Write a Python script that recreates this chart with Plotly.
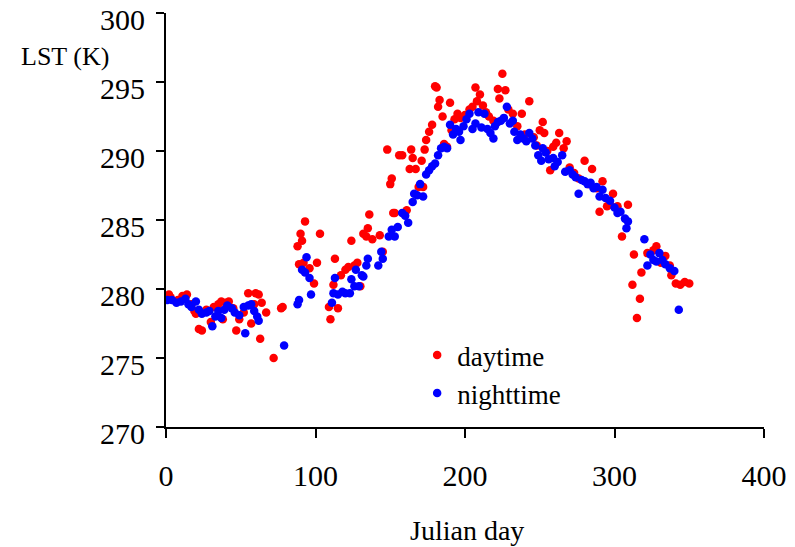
import plotly.graph_objects as go

# Daytime LST (red)
day_x = [2, 3, 8, 11, 14, 17, 19, 20, 22, 24, 27, 30, 32, 35, 37, 38, 40, 42, 45, 47,
         49, 52, 55, 57, 59, 60, 62, 63, 64, 67, 72, 77, 78, 88, 89, 90, 91, 92, 93, 96,
         99, 101, 103, 109, 110, 112, 113, 115, 117, 120, 122, 124, 126, 128, 130, 132, 134, 135, 136, 138,
         143, 145, 148, 150, 151, 152, 153, 156, 158, 161, 163, 164, 165, 167, 169, 171, 172, 173, 174, 176,
         178, 180, 181, 182, 183, 185, 186, 188, 190, 191, 193, 195, 197, 200, 203, 205, 207, 208, 210, 212,
         214, 216, 219, 222, 223, 225, 227, 229, 232, 235, 238, 240, 243, 246, 248, 250, 252, 253, 255, 257,
         259, 261, 263, 266, 268, 270, 273, 276, 280, 283, 285, 288, 290, 292, 295, 297, 299, 302, 305, 309,
         312, 313, 315, 317, 318, 322, 326, 328, 331, 334, 337, 338, 341, 344, 347, 350]
day_y = [279.6, 279.4, 279.2, 279.5, 279.6, 278.9, 278.4, 278.2, 277.1, 277.0, 278.5, 277.6, 278.7, 278.9, 279.1, 277.8, 279.0, 279.1, 278.6, 277.0,
         277.8, 278.3, 279.7, 277.5, 278.9, 279.7, 279.6, 276.4, 279.0, 278.3, 275.0, 278.6, 278.7, 283.1, 281.8, 284.0, 283.5, 281.9, 284.9, 281.5,
         280.4, 281.9, 284.0, 278.7, 277.8, 280.3, 282.2, 278.6, 281.0, 281.4, 281.6, 283.5, 281.7, 281.9, 280.2, 284.0, 283.8, 284.4, 285.4, 283.6,
         283.9, 282.7, 290.1, 287.6, 288.0, 285.5, 285.5, 289.7, 289.7, 285.7, 288.7, 290.1, 289.5, 288.7, 287.4, 289.3, 287.4, 290.1, 290.8, 291.4,
         291.9, 294.7, 294.6, 293.2, 293.7, 292.5, 290.5, 290.3, 293.5, 291.5, 292.3, 292.7, 292.4, 292.6, 293.0, 293.2, 294.6, 293.6, 294.1, 293.3,
         292.8, 292.5, 292.2, 294.5, 293.8, 295.6, 294.4, 293.0, 292.7, 291.8, 292.7, 291.2, 293.6, 291.0, 290.4, 291.5, 292.1, 291.3, 290.0, 288.6,
         290.3, 290.6, 291.3, 290.2, 290.7, 288.8, 288.4, 288.0, 289.3, 287.6, 288.7, 287.3, 285.6, 287.8, 286.0, 286.1, 286.9, 286.0, 283.8, 286.1,
         280.3, 282.5, 277.9, 279.3, 281.2, 282.6, 282.8, 283.1, 281.9, 282.4, 281.7, 281.0, 280.4, 280.3, 280.5, 280.4]

# Nighttime LST (blue)
night_x = [1, 4, 7, 10, 13, 15, 17, 20, 22, 24, 27, 29, 31, 33, 35, 37, 39, 41, 44, 46,
           49, 52, 53, 55, 57, 59, 61, 62, 79, 88, 89, 91, 93, 94, 96, 97, 111, 112, 113, 115,
           118, 120, 123, 124, 126, 127, 129, 131, 132, 134, 135, 142, 144, 145, 149, 151, 153, 155, 158, 160,
           162, 165, 166, 168, 170, 172, 174, 176, 178, 180, 182, 184, 186, 188, 190, 192, 194, 196, 197, 199,
           201, 203, 205, 207, 209, 211, 213, 215, 217, 219, 220, 222, 224, 226, 228, 230, 232, 233, 235, 237,
           239, 241, 243, 245, 247, 249, 251, 252, 254, 256, 259, 260, 262, 265, 267, 270, 272, 274, 276, 278,
           280, 282, 284, 286, 288, 290, 292, 294, 297, 300, 302, 304, 307, 308, 309, 320, 322, 324, 326, 328,
           330, 332, 334, 337, 340, 343]
night_y = [279.2, 279.2, 279.0, 279.1, 279.3, 278.9, 278.7, 279.1, 278.5, 278.2, 278.3, 278.4, 277.3, 278.0, 278.4, 277.9, 278.5, 278.8, 278.6, 278.3,
           278.1, 278.7, 276.8, 278.8, 278.9, 278.4, 278.0, 277.7, 275.9, 278.9, 279.2, 281.4, 281.2, 282.3, 280.8, 279.6, 279.0, 279.7, 280.8, 279.6,
           279.8, 279.7, 279.7, 280.7, 280.2, 281.4, 280.2, 281.0, 280.9, 281.7, 282.2, 281.7, 282.7, 282.2, 283.8, 284.3, 283.8, 284.5, 285.5, 285.3,
           284.8, 286.3, 286.9, 286.8, 287.6, 286.7, 288.3, 288.6, 288.9, 289.1, 289.7, 290.2, 290.3, 290.2, 291.9, 291.2, 291.6, 291.4, 290.8, 291.8,
           292.3, 292.7, 291.6, 292.0, 292.8, 291.7, 292.7, 291.6, 291.3, 290.9, 291.8, 292.1, 292.2, 292.4, 293.2, 292.0, 292.2, 291.4, 290.8, 291.2,
           290.9, 290.7, 291.3, 290.9, 290.4, 289.7, 289.3, 290.2, 289.9, 289.4, 289.5, 288.9, 289.2, 289.7, 288.5, 288.6, 288.3, 288.1, 286.9, 287.9,
           287.8, 287.6, 287.7, 287.3, 287.4, 286.7, 287.2, 286.6, 286.4, 285.9, 285.5, 285.6, 285.1, 284.4, 284.9, 283.6, 281.7, 282.5, 282.1, 282.0,
           282.6, 282.1, 281.8, 281.5, 281.3, 278.5]

x_ticks = [0, 100, 200, 300, 400]
y_ticks = [270, 275, 280, 285, 290, 295, 300]

FONT = "Liberation Serif"

fig = go.Figure()
fig.add_trace(go.Scatter(x=day_x, y=day_y, mode="markers", name="daytime",
                         marker=dict(color="#ff0000", size=8.5, line=dict(width=0))))
fig.add_trace(go.Scatter(x=night_x, y=night_y, mode="markers", name="nighttime",
                         marker=dict(color="#0000ff", size=8.5, line=dict(width=0))))

fig.update_layout(
    template="none",
    width=787, height=539,
    margin=dict(l=158, r=31, t=5, b=120, autoexpand=False),
    paper_bgcolor="white", plot_bgcolor="white",
    font=dict(family=FONT, color="black", size=30),
    showlegend=True,
    legend=dict(x=0.42, y=0.232, xanchor="left", yanchor="top",
                bgcolor="rgba(0,0,0,0)", borderwidth=0,
                font=dict(family=FONT, size=27),
                tracegroupgap=0, itemwidth=30),
    xaxis=dict(range=[0, 400], tickvals=x_ticks, showgrid=False, zeroline=False,
               automargin=False, ticklabeloverflow="allow",
               showline=True, linecolor="black", linewidth=2,
               ticks="outside", ticklen=9, tickwidth=2, tickcolor="black",
               ticklabelstandoff=12,
               tickfont=dict(family=FONT, size=30)),
    yaxis=dict(range=[270, 300], tickvals=y_ticks, showgrid=False, zeroline=False,
               automargin=False, ticklabeloverflow="allow",
               showline=True, linecolor="black", linewidth=2,
               ticks="outside", ticklen=8, tickwidth=2, tickcolor="black",
               ticklabelstandoff=5, ticklabelshift=6,
               tickfont=dict(family=FONT, size=30)),
    annotations=[
        dict(text="LST (K)", xref="paper", yref="paper", x=-0.169, y=0.894,
             xanchor="center", yanchor="middle", showarrow=False,
             font=dict(family=FONT, size=26)),
        dict(text="Julian day", xref="paper", yref="paper", x=0.503, y=-0.251,
             xanchor="center", yanchor="middle", showarrow=False,
             font=dict(family=FONT, size=28)),
    ],
)

fig.write_html("out.html")
